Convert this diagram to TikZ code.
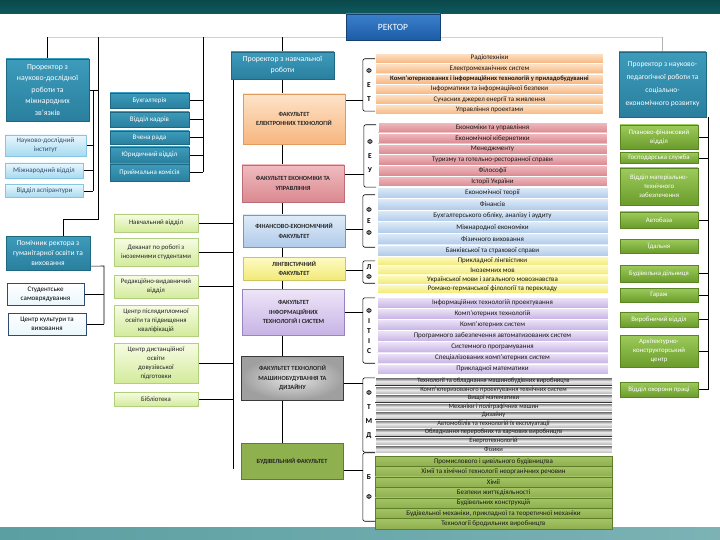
\documentclass[tikz,border=0pt]{standalone}
\usepackage{fontspec}
\setmainfont{Carlito}
\usetikzlibrary{positioning,backgrounds}
\definecolor{bandtop}{HTML}{0D5A5E}
\definecolor{bandbot}{HTML}{5B9FA2}
\definecolor{tealA}{HTML}{3D9BBB}
\definecolor{tealB}{HTML}{2A7F9E}
\definecolor{tealD}{HTML}{1F6882}
\definecolor{rectA}{HTML}{3B80CC}
\definecolor{rectB}{HTML}{1D5CA6}
\definecolor{skyA}{HTML}{EAF7FD}
\definecolor{skyB}{HTML}{A6DAF0}
\definecolor{skyD}{HTML}{86C6E2}
\definecolor{navy}{HTML}{2E4C72}
\definecolor{limeA}{HTML}{F7FCE4}
\definecolor{limeB}{HTML}{D3EB9B}
\definecolor{limeD}{HTML}{B2CF80}
\definecolor{grnA}{HTML}{9DCB5C}
\definecolor{grnB}{HTML}{6A9C2B}
\definecolor{grnD}{HTML}{5A8622}
\definecolor{fetA}{HTML}{FDE3C9}
\definecolor{fetB}{HTML}{F7B67F}
\definecolor{fetD}{HTML}{E49A5A}
\definecolor{feuA}{HTML}{F0BCC0}
\definecolor{feuB}{HTML}{DA8990}
\definecolor{feuD}{HTML}{BD6B74}
\definecolor{fefA}{HTML}{DEEBF8}
\definecolor{fefB}{HTML}{B1CBEA}
\definecolor{fefD}{HTML}{7897C4}
\definecolor{lfA}{HTML}{FDFBC4}
\definecolor{lfB}{HTML}{F2EA78}
\definecolor{lfD}{HTML}{CFC45E}
\definecolor{itA}{HTML}{EEE5F8}
\definecolor{itB}{HTML}{C7B3E5}
\definecolor{itD}{HTML}{9A84C0}
\definecolor{tmA}{HTML}{4D4D4D}
\definecolor{tmB}{HTML}{EDEDED}
\definecolor{tmD}{HTML}{3A3A3A}
\definecolor{bfA}{HTML}{A5C466}
\definecolor{bfB}{HTML}{8FB04E}
\definecolor{bfD}{HTML}{5E7E28}

\begin{document}
\begin{tikzpicture}[x=1pt,y=-1pt,node distance=0pt,
  box/.style={draw,align=center,inner sep=1pt},
  prorector/.style={box,draw=tealD,top color=tealA,bottom color=tealB,text=white,font=\fontsize{7.8}{11}\selectfont},
  unit/.style={box,draw=tealD,top color=tealA,bottom color=tealB,text=white,font=\fontsize{7}{8}\selectfont,minimum width=79pt},
  skybox/.style={box,draw=skyD,top color=skyA,bottom color=skyB,text=navy,font=\fontsize{7}{9}\selectfont},
  plainbox/.style={box,draw=navy,line width=0.9pt,top color=white,bottom color=skyA,text=black,font=\fontsize{7}{9}\selectfont},
  limebox/.style={box,draw=limeD,top color=limeA,bottom color=limeB,text=black!85,font=\fontsize{6.8}{9}\selectfont,minimum width=84pt},
  grnbox/.style={box,draw=grnD,top color=grnA,bottom color=grnB,text=white,font=\fontsize{6.8}{9}\selectfont,minimum width=78pt},
  faculty/.style={box,text=black!85,font=\bfseries\fontsize{6.3}{9.5}\selectfont,minimum width=102pt},
  dept/.style 2 args={draw=white,line width=0.3pt,top color=#1,bottom color=#2,inner sep=0pt,text=black!90,font=\fontsize{7}{7}\selectfont},
  fetrow/.style={dept={fetA}{fetB},minimum width=228pt,minimum height=10pt},
  feurow/.style={dept={feuA}{feuB},minimum width=229pt,minimum height=10.5pt},
  fefrow/.style={dept={fefA}{fefB},minimum width=231pt,minimum height=11.2pt},
  lfrow/.style={dept={lfA}{lfB},minimum width=231pt,minimum height=9pt},
  itrow/.style={dept={itA}{itB},minimum width=231pt,minimum height=10.8pt},
  tmrow/.style={dept={tmA}{gray!60},middle color=tmB,minimum width=237pt,minimum height=8.2pt,font=\fontsize{6.5}{7}\selectfont},
  bfrow/.style={dept={bfA}{bfB},draw=bfD,minimum width=237pt,minimum height=10.1pt},
  letters/.style={align=center,inner sep=0pt,minimum width=12pt,font=\bfseries\fontsize{7.5}{#1}\selectfont},
  bracket/.style={rounded corners=2pt,line width=0.6pt},
  link/.style={line width=0.6pt}]
\useasboundingbox (0,0) rectangle (720,540);

% top of the tree
\node[draw=rectB!70!black,top color=rectA,bottom color=rectB,text=white,minimum width=94pt,minimum height=26pt,font=\fontsize{9.5}{11}\selectfont] (rector) at (393,27) {РЕКТОР};

% research and international
\node[prorector,minimum width=83pt,minimum height=62pt,font=\fontsize{7.8}{11.5}\selectfont] (prNd) at (47.5,90) {Проректор з\\науково-дослідної\\роботи та\\міжнародних\\зв’язків};
\node[skybox,minimum width=81pt,minimum height=21pt] (ndi) at (45.5,145.5) {Науково-дослідний\\інститут};
\node[skybox,minimum width=78pt,minimum height=15pt] (mv) at (44,170.5) {Міжнародний відділ};
\node[skybox,minimum width=78pt,minimum height=13pt] (va) at (44.5,191) {Відділ аспірантури};

% humanities
\node[prorector,minimum width=84pt,minimum height=34pt,font=\fontsize{7.5}{10}\selectfont] (gum) at (48,253) {Помічник ректора з\\гуманітарної освіти та\\виховання};
\node[plainbox,minimum width=77pt,minimum height=22pt] (ss) at (45.5,294) {Студентське\\самоврядування};
\node[plainbox,minimum width=78pt,minimum height=22pt] (ck) at (47,324) {Центр культури та\\виховання};

% units under the rector
\node[unit,minimum height=15pt] (buh) at (149.5,100.5) {Бухгалтерія};
\node[unit,minimum height=15pt] (vk) at (149.5,119.5) {Відділ кадрів};
\node[unit,minimum height=13pt] (vr) at (149.5,137.5) {Вчена рада};
\node[unit,minimum height=16pt] (yur) at (149.5,155) {Юридичний відділ};
\node[unit,minimum height=17pt] (pk) at (149.5,172.5) {Приймальна комісія};

% units of the teaching vice-rector
\node[limebox,minimum height=18pt] (nv) at (156,223) {Навчальний відділ};
\node[limebox,minimum height=28pt] (dek) at (156,252) {Деканат по роботі з\\іноземними студентами};
\node[limebox,minimum height=23pt] (red) at (156,286.5) {Редакційно-видавничий\\відділ};
\node[limebox,minimum height=31pt] (cpo) at (156,320.5) {Центр післядипломної\\освіти та підвищення\\кваліфікацій};
\node[limebox,minimum height=40pt] (cdo) at (156,363) {Центр дистанційної\\освіти\\довузівської\\підготовки};
\node[limebox,minimum height=14pt] (bib) at (156,399) {Бібліотека};

% faculties
\node[prorector,minimum width=103pt,minimum height=27pt] (prNav) at (282.5,65.5) {Проректор з навчальної\\роботи};
\node[faculty,draw=fetD,top color=fetA,bottom color=fetB,minimum height=50pt] (fFET) at (294,119) {ФАКУЛЬТЕТ\\ЕЛЕКТРОННИХ ТЕХНОЛОГІЙ};
\node[faculty,draw=feuD,top color=feuA,bottom color=feuB,minimum height=37pt] (fFEU) at (293,183.5) {ФАКУЛЬТЕТ ЕКОНОМІКИ ТА\\УПРАВЛІННЯ};
\node[faculty,draw=fefD,top color=fefA,bottom color=fefB,minimum height=32pt] (fFEF) at (294,231) {ФІНАНСОВО-ЕКОНОМІЧНИЙ\\ФАКУЛЬТЕТ};
\node[faculty,draw=lfD,top color=lfA,bottom color=lfB,minimum height=23pt] (fLF) at (294,268.5) {ЛІНГВІСТИЧНИЙ\\ФАКУЛЬТЕТ};
\node[faculty,draw=itD,top color=itA,bottom color=itB,minimum height=46pt] (fFITIS) at (293.5,312) {ФАКУЛЬТЕТ\\ІНФОРМАЦІЙНИХ\\ТЕХНОЛОГІЙ І СИСТЕМ};
\node[faculty,draw=tmD,inner color=gray!20,outer color=gray!75,minimum height=44pt] (fFTMD) at (292.5,378) {ФАКУЛЬТЕТ ТЕХНОЛОГІЙ\\МАШИНОБУДУВАННЯ ТА\\ДИЗАЙНУ};
\node[faculty,draw=bfD,fill=bfB,minimum height=36pt] (fBF) at (292,461) {БУДІВЕЛЬНИЙ ФАКУЛЬТЕТ};

% departments
\node[fetrow,anchor=north] (fet1) at (489.5,53) {Радіотехніки};
\node[fetrow,below=of fet1] (fet2) {Електромеханічних систем};
\node[fetrow,below=of fet2] (fet3) {\bfseries\fontsize{6.6}{7}\selectfont Комп’ютеризованих і інформаційних технологій у приладобудуванні};
\node[fetrow,below=of fet3] (fet4) {Інформатики та інформаційної безпеки};
\node[fetrow,below=of fet4] (fet5) {Сучасних джерел енергії та живлення};
\node[fetrow,below=of fet5] (fet6) {Управління проектами};

\node[feurow,anchor=north] (feu1) at (492.5,122) {Економіки та управління};
\node[feurow,below=of feu1] (feu2) {Економічної кібернетики};
\node[feurow,below=of feu2] (feu3) {Менеджменту};
\node[feurow,below=of feu3] (feu4) {Туризму та готельно-ресторанної справи};
\node[feurow,below=of feu4] (feu5) {Філософії};
\node[feurow,below=of feu5] (feu6) {Історії України};

\node[fefrow,anchor=north] (fef1) at (492.5,187) {Економічної теорії};
\node[fefrow,below=of fef1] (fef2) {Фінансів};
\node[fefrow,below=of fef2] (fef3) {Бухгалтерського обліку, аналізу і аудиту};
\node[fefrow,below=of fef3] (fef4) {Міжнародної економіки};
\node[fefrow,below=of fef4] (fef5) {Фізичного виховання};
\node[fefrow,below=of fef5] (fef6) {Банківської та страхової справи};

\node[lfrow,anchor=north] (lf1) at (492.5,256) {Прикладної лінгвістики};
\node[lfrow,below=of lf1] (lf2) {Іноземних мов};
\node[lfrow,below=of lf2] (lf3) {Української мови і загального мовознавства};
\node[lfrow,below=of lf3] (lf4) {Романо-германської філології та перекладу};

\node[itrow,anchor=north] (it1) at (492.5,297) {Інформаційних технологій проектування};
\node[itrow,below=of it1] (it2) {Комп’ютерних технологій};
\node[itrow,below=of it2] (it3) {Комп’ютерних систем};
\node[itrow,below=of it3] (it4) {Програмного забезпечення автоматизованих систем};
\node[itrow,below=of it4] (it5) {Системного програмування};
\node[itrow,below=of it5] (it6) {Спеціалізованих комп’ютерних систем};
\node[itrow,below=of it6] (it7) {Прикладної математики};

\node[tmrow,anchor=north] (tm1) at (493.5,377) {Технології та обладнання машинобудівних виробництв};
\node[tmrow,below=of tm1] (tm2) {Комп’ютеризованого проектування технічних систем};
\node[tmrow,below=of tm2] (tm3) {Вищої математики};
\node[tmrow,below=of tm3] (tm4) {Механіки і поліграфічних машин};
\node[tmrow,below=of tm4] (tm5) {Дизайну};
\node[tmrow,below=of tm5] (tm6) {Автомобілів та технологій їх експлуатації};
\node[tmrow,below=of tm6] (tm7) {Обладнання переробних та харчових виробництв};
\node[tmrow,below=of tm7] (tm8) {Енерготехнологій};
\node[tmrow,below=of tm8] (tm9) {Фізики};

\node[bfrow,anchor=north] (bf1) at (493.5,456) {Промислового і цивільного будівництва};
\node[bfrow,below=of bf1] (bf2) {Хімії та хімічної технології неорганічних речовин};
\node[bfrow,below=of bf2] (bf3) {Хімії};
\node[bfrow,below=of bf3] (bf4) {Безпеки життєдіяльності};
\node[bfrow,below=of bf4] (bf5) {Будівельних конструкцій};
\node[bfrow,below=of bf5] (bf6) {Будівельної механіки, прикладної та теоретичної механіки};
\node[bfrow,below=of bf6] (bf7) {Технології бродильних виробництв};

% faculty abbreviations
\node[letters=14,minimum height=52pt] (bFET) at (369,85) {Ф\\Е\\Т};
\node[letters=14,minimum height=62pt] (bFEU) at (370,156) {Ф\\Е\\У};
\node[letters=11.5,minimum height=52pt] (bFEF) at (369,221) {Ф\\Е\\Ф};
\node[letters=9.5,minimum height=22pt] (bLF) at (369,272) {Л\\Ф};
\node[letters=10,minimum height=65pt] (bFITIS) at (369,330.5) {Ф\\І\\Т\\І\\С};
\node[letters=14,minimum height=74pt] (bFTMD) at (369,415) {Ф\\Т\\М\\Д};
\node[letters=20,minimum height=68pt] (bBF) at (369,487) {Б\\Ф};

% economic vice-rector
\node[prorector,minimum width=87pt,minimum height=65pt,font=\fontsize{7.5}{13}\selectfont] (prSoc) at (662.5,84.5) {Проректор з науково-\\педагогічної роботи та\\соціально-\\економічного розвитку};
\node[grnbox,minimum height=24pt] (pfv) at (659,137) {Планово-фінансовий\\відділ};
\node[grnbox,minimum height=11pt] (gs) at (659,158) {Господарська служба};
\node[grnbox,minimum height=37pt] (vmtz) at (659,186.5) {Відділ матеріально-\\технічного\\забезпечення};
\node[grnbox,minimum height=16pt] (ab) at (659,220) {Автобаза};
\node[grnbox,minimum height=14pt] (id) at (659,246) {Їдальня};
\node[grnbox,minimum height=17pt] (bd) at (659,273.5) {Будівельна дільниця};
\node[grnbox,minimum height=14pt] (gar) at (659,295) {Гараж};
\node[grnbox,minimum height=15pt] (vv) at (659,319.5) {Виробничий відділ};
\node[grnbox,minimum height=32pt] (akc) at (659,351) {Архітектурно-\\конструкторський\\центр};
\node[grnbox,minimum height=15pt] (vop) at (659,389.5) {Відділ охорони праці};

\begin{pgfonlayer}{background}
  \fill[top color=bandtop!80!black,bottom color=bandtop] (0,0) rectangle (720,14);
  \fill[left color=bandbot,right color=bandbot!80!white] (0,527) rectangle (720,540);

  \coordinate (hubL) at (47.5,37);
  \coordinate (hubR) at (662.5,37);
  \coordinate (busA) at (98,37);
  \coordinate (busB) at (203,37);
  \coordinate (busN) at (93,90);
  \coordinate (gumKnee) at (63,219);
  \coordinate (busG) at (104,266);
  \coordinate (busC) at (233,79);
  \coordinate (busCend) at (233,469);
  \coordinate (busR) at (708,117);
  \coordinate (jFET) at ([yshift=-7pt]fFET.north east);
  \coordinate (jFEU) at ([yshift=-10pt]fFEU.north east);
  \coordinate (jFEF) at ([yshift=-15pt]fFEF.north east);
  \coordinate (jLF) at ([yshift=-13pt]fLF.north east);
  \coordinate (jFITIS) at (fFITIS.east);
  \coordinate (jFTMD) at ([yshift=-27pt]fFTMD.north east);
  \coordinate (jBF) at ([yshift=-27pt]fBF.north east);

  \draw[gray!35,link] (hubL) -- (hubR);
  \draw[link] (prNd.north) -- (prNd.north |- hubL);
  \draw[link] (prNav.north) -- (prNav.north |- hubL);
  \draw[gray!60,link] (prSoc.north) -- (prSoc.north |- hubR);

  % left side
  \draw[link] (busA) |- (gumKnee) -- (gumKnee |- gum.north);
  \draw[link] (prNd.east) -- (prNd.east -| busA);
  \draw[link] (busN) -- (busN |- va.east);
  \draw[link] (ndi.east) -- (ndi.east -| busN);
  \draw[link] (mv.east) -- (mv.east -| busN);
  \draw[link] (va.east) -- (va.east -| busN);
  \draw[link] ([yshift=4pt]gum.south east) -- (busG) -- (busG |- ck.east);
  \draw[link] (ss.east) -- (ss.east -| busG);
  \draw[link] (ck.east) -- (ck.east -| busG);

  \draw[link] (busB) -- (busB |- pk.east);
  \draw[link] (buh.east) -- (buh.east -| busB);
  \draw[link] (vk.east) -- (vk.east -| busB);
  \draw[link] (vr.east) -- (vr.east -| busB);
  \draw[link] (yur.east) -- (yur.east -| busB);
  \draw[link] (pk.east) -- (pk.east -| busB);

  % centre
  \draw[link] (busC) -- (busCend);
  \draw[link] (nv.east) -- (nv.east -| busC);
  \draw[link] (dek.east) -- (dek.east -| busC);
  \draw[link] (red.east) -- (red.east -| busC);
  \draw[link] (cdo.east) -- (cdo.east -| busC);
  \draw[link] (bib.east) -- (bib.east -| busC);
  \draw[link] (prNav.south) -- (prNav.south |- fBF.north);

  \draw[link] (jFET) -- (jFET -| bFET.west);
  \draw[link] (jFEU) -- (jFEU -| bFEU.west);
  \draw[link] (jFEF) -- (jFEF -| bFEF.west);
  \draw[link] (jLF) -- (jLF -| bLF.west);
  \draw[link] (jFITIS) -- (jFITIS -| bFITIS.west);
  \draw[link] (jFTMD) -- (jFTMD -| bFTMD.west);
  \draw[link] (jBF) -- (jBF -| bBF.west);

  % right side
  \draw[link] (busR) -- (busR |- vop.east);
  \draw[link] (pfv.east) -- (pfv.east -| busR);
  \draw[link] (gs.east) -- (gs.east -| busR);
  \draw[link] (ab.east) -- (ab.east -| busR);
  \draw[link] (bd.east) -- (bd.east -| busR);
  \draw[link] (gar.east) -- (gar.east -| busR);
  \draw[link] (vv.east) -- (vv.east -| busR);
  \draw[link] (akc.east) -- (akc.east -| busR);
  \draw[link] (vop.east) -- (vop.east -| busR);
\end{pgfonlayer}

% brackets
\draw[bracket] (bFET.north east) -- (bFET.north west) -- (bFET.south west) -- (bFET.south east);
\draw[bracket] (bFEU.north east) -- (bFEU.north west) -- (bFEU.south west) -- (bFEU.south east);
\draw[bracket] (bFEF.north east) -- (bFEF.north west) -- (bFEF.south west) -- (bFEF.south east);
\draw[bracket] (bLF.north east) -- (bLF.north west) -- (bLF.south west) -- (bLF.south east);
\draw[bracket] (bFITIS.north east) -- (bFITIS.north west) -- (bFITIS.south west) -- (bFITIS.south east);
\draw[bracket] (bFTMD.north east) -- (bFTMD.north west) -- (bFTMD.south west) -- (bFTMD.south east);
\draw[bracket] (bBF.north east) -- (bBF.north west) -- (bBF.south west) -- (bBF.south east);
\end{tikzpicture}
\end{document}
